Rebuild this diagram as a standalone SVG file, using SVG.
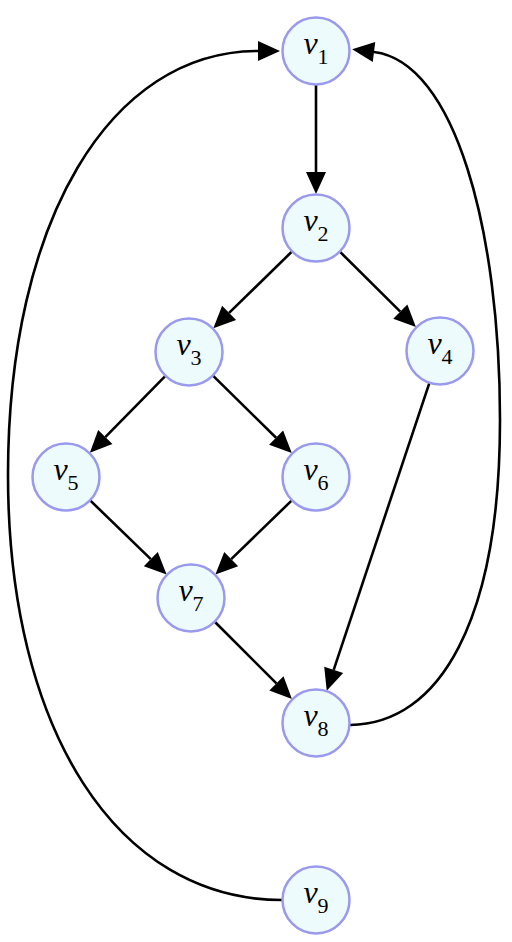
<svg xmlns="http://www.w3.org/2000/svg" width="512" height="942" viewBox="0 0 512 942">
<style>
.n circle{fill:#eefbfc;stroke:#9999ee;stroke-width:2.5}
.n text{font-family:"Liberation Serif","DejaVu Serif",serif;font-style:italic;font-size:32px;text-anchor:middle;fill:#000}
.n tspan{font-style:normal;font-size:22px}
.e path,.e line{fill:none;stroke:#000;stroke-width:2.6;marker-end:url(#ah)}
</style>
<defs>
<marker id="ah" markerUnits="userSpaceOnUse" markerWidth="24" markerHeight="22" viewBox="0 -11 24 22" refX="0" refY="0" orient="auto" overflow="visible">
<path d="M0,-10 L22,0 L0,10 z" fill="#000"/>
</marker>
</defs>
<rect width="512" height="942" fill="#fff"/>
<g id="edges" class="e">
<line x1="316" y1="85" x2="316" y2="172"/>
<line x1="291.7" y1="251.8" x2="229.1" y2="312.9"/>
<line x1="340.1" y1="251.9" x2="400.3" y2="311.6"/>
<line x1="165.2" y1="376.2" x2="105.3" y2="437.1"/>
<line x1="213.2" y1="375.9" x2="276.1" y2="437.7"/>
<line x1="90.4" y1="500.6" x2="150.8" y2="559.1"/>
<line x1="291.6" y1="500.6" x2="231.2" y2="559.1"/>
<line x1="215" y1="622" x2="276.4" y2="683.4"/>
<line x1="429.25" y1="383.3" x2="333.7" y2="669.9"/>
<path d="M350,725 C440,724 500,620 500,420 C500,230 455,62 374,52"/>
<path d="M282,900 C117,900 8,730 8,475 C8,221 110,51 258,51"/>
</g>
<g id="v1" class="n"><circle cx="316" cy="51" r="33.5"/><text x="316" y="54">v<tspan dy="10">1</tspan></text></g>
<g id="v2" class="n"><circle cx="316" cy="228" r="33.5"/><text x="316" y="231">v<tspan dy="10">2</tspan></text></g>
<g id="v3" class="n"><circle cx="189" cy="352" r="33.5"/><text x="189" y="355">v<tspan dy="10">3</tspan></text></g>
<g id="v4" class="n"><circle cx="440" cy="351" r="33.5"/><text x="440" y="354">v<tspan dy="10">4</tspan></text></g>
<g id="v5" class="n"><circle cx="66" cy="477" r="33.5"/><text x="66" y="480">v<tspan dy="10">5</tspan></text></g>
<g id="v6" class="n"><circle cx="316" cy="477" r="33.5"/><text x="316" y="480">v<tspan dy="10">6</tspan></text></g>
<g id="v7" class="n"><circle cx="191" cy="598" r="33.5"/><text x="191" y="601">v<tspan dy="10">7</tspan></text></g>
<g id="v8" class="n"><circle cx="316" cy="723" r="33.5"/><text x="316" y="726">v<tspan dy="10">8</tspan></text></g>
<g id="v9" class="n"><circle cx="316" cy="900" r="33.5"/><text x="316" y="903">v<tspan dy="10">9</tspan></text></g>
</svg>
